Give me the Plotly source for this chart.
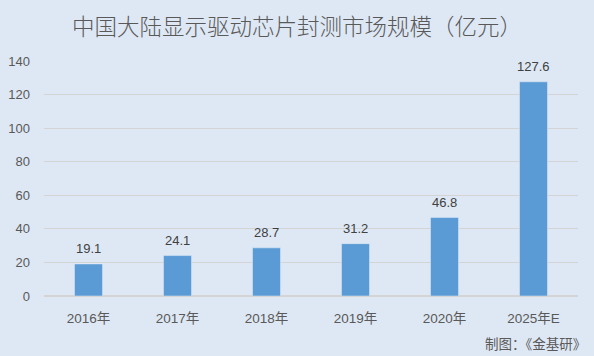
import plotly.graph_objects as go

categories = ["2016年", "2017年", "2018年", "2019年", "2020年", "2025年E"]
values = [19.1, 24.1, 28.7, 31.2, 46.8, 127.6]
y_ticks = [0, 20, 40, 60, 80, 100, 120, 140]

bg = "#DEE8F4"
fam = "Liberation Sans, Noto Sans CJK SC, sans-serif"
fig = go.Figure(go.Bar(x=categories, y=values, marker_color="#5B9BD5"))

annots = [dict(x=c, y=v, xref="x", yref="y", text=f"{v:.1f}", showarrow=False,
               yanchor="middle", yshift=15, font=dict(size=13, color="#404040", family=fam))
          for c, v in zip(categories, values)]
annots.append(dict(text="制图：《金基研》", x=1, xref="paper", xanchor="right",
                   y=-0.2, yref="paper", yanchor="middle", xshift=10, showarrow=False,
                   font=dict(size=13.5, color="#595959", family="Noto Sans CJK SC")))

fig.update_layout(
    width=594, height=356, paper_bgcolor=bg, plot_bgcolor=bg,
    margin=dict(l=44, r=16, t=61, b=60, autoexpand=False),
    bargap=0.685, showlegend=False,
    font=dict(family=fam, color="#595959", size=13),
    title=dict(text="中国大陆显示驱动芯片封测市场规模（亿元）", x=0.5, xanchor="center",
               y=0.925, yanchor="middle",
               font=dict(size=22.5, color="#595959", family="Noto Sans CJK SC", weight=300)),
    xaxis=dict(showgrid=False, ticks="", showline=False, automargin=False,
               ticklabelstandoff=12, tickfont=dict(size=13.5, color="#595959", family=fam)),
    yaxis=dict(range=[0, 140], tickvals=y_ticks, showgrid=True, gridcolor="#D4D4D4",
               zeroline=True, zerolinecolor="#D4D4D4", ticks="", automargin=False,
               ticklabelstandoff=13, tickfont=dict(size=13, color="#595959", family=fam)),
    annotations=annots,
)
fig.write_html("out.html", config={"displayModeBar": False},
               post_script="document.body.style.margin='0';")
